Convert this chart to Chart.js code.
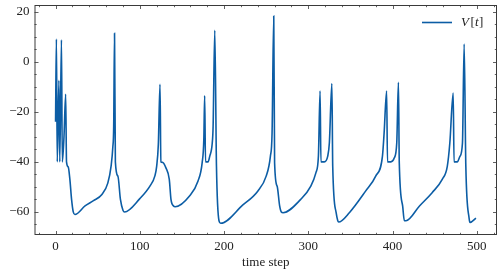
<!DOCTYPE html>
<html>
<head>
<meta charset="utf-8">
<script src="https://cdn.jsdelivr.net/npm/chart.js@4.4.0/dist/chart.umd.min.js"></script>
<style>
  html, body { margin: 0; padding: 0; background: #fff; }
  #wrap { width: 503px; height: 275px; }
</style>
</head>
<body>
<div id="wrap"><canvas id="myChart" width="503" height="275"></canvas></div>
<script>
// values
const timeSteps = [
  0, 1, 2, 4, 5, 7, 8, 10, 12, 13, 15, 17, 19, 21, 23, 35, 45, 55, 62, 66, 68, 69, 70,
  71, 74, 77, 80, 82, 100, 112, 118, 120, 122, 124,
  125, 127, 131, 135, 137, 140, 142, 159, 169, 174, 176, 177,
  178, 181, 183, 186, 187, 189, 191, 194, 196,
  222, 240, 250, 255, 257, 259, 260, 263, 266, 268, 270,
  291, 303, 309, 312, 314, 315, 319, 323, 325, 328, 329, 333, 335, 336,
  349, 368, 380, 388, 390, 393, 394, 398, 402, 405, 407, 408, 412, 414, 416,
  432, 447, 459, 465, 468, 472, 473, 477, 480, 483, 485, 487, 491, 492, 499
];
const voltage = [
  -24, 9, -40, -7.5, -40, 8.7, -40, -30, -13, -40, -42, -47, -55, -60, -61, -57.6, -55.5, -53, -48.5, -41.5, -34, -26, 11.3,
  -40, -45.7, -55, -59.3, -60, -54.7, -49.7, -45.5, -41.8, -33, -9.1,
  -40, -40.2, -42.4, -47, -55, -57.6, -57.9, -53.6, -47.7, -40.4, -31, -13.6,
  -40, -40, -37.8, -32.5, -26, 12.5, -41.8, -63.5, -64.5,
  -57.3, -51.7, -45.7, -37.8, -28.5, 18.2, -40.4, -49.7, -57.6, -60, -60.3,
  -55, -49.7, -44.4, -37.8, -11.7, -40, -40, -37.8, -32.5, -8.8, -41.8, -60.2, -63.5, -64,
  -60.2, -51.7, -45.7, -37.8, -28.5, -11.7, -40, -40, -38.5, -32.5, -8.3, -40.4, -57.6, -63.5, -63.5,
  -57.6, -52.3, -47, -41.8, -32.5, -12.5, -40, -40, -37.8, -32.5, 7, -41.8, -62.8, -64.2, -62.5
];
const xTicks = [0, 100, 200, 300, 400, 500];
const yTicks = [-60, -40, -20, 0, 20];
const seriesLabel = 'V[t]';
const xTitle = 'time step';

const lineColor = '#0C5DA5';
const frameColor = '#3a3a3a';
const serif = '"Liberation Serif", "DejaVu Serif", serif';

const points = timeSteps.map((t, i) => ({ x: t, y: voltage[i] }));

// inward ticks on every side, plus the box, like matplotlib science style
const frameTicks = {
  id: 'frameTicks',
  afterDraw(chart) {
    const { ctx, chartArea: a, scales } = chart;
    const xs = scales.x, ys = scales.y;
    ctx.save();
    ctx.strokeStyle = frameColor;
    ctx.lineWidth = 1;
    ctx.strokeRect(a.left + 0.5, a.top + 0.5, a.right - a.left - 1, a.bottom - a.top - 1);
    ctx.lineWidth = 0.8;
    ctx.beginPath();
    for (let v = -20; v <= 520; v += 20) {
      const px = Math.round(xs.getPixelForValue(v)) + 0.5;
      if (px <= a.left + 1 || px >= a.right - 1) continue;
      const len = v % 100 === 0 ? 4 : 2.2;
      ctx.moveTo(px, a.bottom); ctx.lineTo(px, a.bottom - len);
      ctx.moveTo(px, a.top); ctx.lineTo(px, a.top + len);
    }
    for (let v = -65; v <= 20; v += 5) {
      const py = Math.round(ys.getPixelForValue(v)) + 0.5;
      if (py <= a.top + 1 || py >= a.bottom - 1) continue;
      const len = v % 20 === 0 ? 4 : 2.2;
      ctx.moveTo(a.left, py); ctx.lineTo(a.left + len, py);
      ctx.moveTo(a.right, py); ctx.lineTo(a.right - len, py);
    }
    ctx.stroke();

    // legend, top right inside the axes
    const ly = a.top + 17.5;
    ctx.strokeStyle = lineColor;
    ctx.lineWidth = 1.6;
    ctx.beginPath();
    ctx.moveTo(422, ly); ctx.lineTo(452, ly);
    ctx.stroke();
    ctx.fillStyle = '#222';
    ctx.textBaseline = 'middle';
    let x = 461;
    const parts = [['V', true], ['[', false], ['t', true], [']', false]];
    parts.forEach(([s, it]) => {
      ctx.font = (it ? 'italic ' : '') + '13px ' + serif;
      ctx.fillText(s, x, ly);
      x += ctx.measureText(s).width + (s === 'V' ? 1.5 : 0.3);
    });
    ctx.restore();
  }
};

const ctx = document.getElementById('myChart').getContext('2d');
const myChart = new Chart(ctx, {
  type: 'line',
  data: {
    datasets: [{
      label: seriesLabel,
      data: points,
      borderColor: lineColor,
      borderWidth: 1.6,
      pointRadius: 0,
      fill: false,
      cubicInterpolationMode: 'monotone'
    }]
  },
  options: {
    responsive: false,
    animation: false,
    layout: { padding: { top: 5, right: 6, left: 0, bottom: 0 } },
    plugins: { legend: { display: false }, tooltip: { enabled: false } },
    scales: {
      x: {
        type: 'linear',
        min: -25,
        max: 524,
        grid: { display: false, drawTicks: false },
        border: { display: false },
        afterFit(scale) {
          scale.height = 40;
          scale.paddingLeft = 0;
          scale.paddingRight = 0;
        },
        afterBuildTicks(scale) { scale.ticks = xTicks.map(v => ({ value: v })); },
        ticks: {
          padding: 4,
          color: '#222',
          maxRotation: 0,
          font: { family: serif, size: 13 },
          callback: v => String(v).replace('-', '\u2212')
        },
        title: {
          display: true,
          text: xTitle,
          color: '#222',
          padding: { top: 0, bottom: 5 },
          font: { family: serif, size: 13 }
        }
      },
      y: {
        min: -69.2,
        max: 22.6,
        grid: { display: false, drawTicks: false },
        border: { display: false },
        afterFit(scale) {
          scale.width = 34.5;
          scale.paddingTop = 0;
          scale.paddingBottom = 0;
        },
        afterBuildTicks(scale) { scale.ticks = yTicks.map(v => ({ value: v })); },
        ticks: {
          padding: 5,
          color: '#222',
          font: { family: serif, size: 13 },
          callback: v => String(v).replace('-', '\u2212')
        }
      }
    }
  },
  plugins: [frameTicks]
});
</script>
</body>
</html>
